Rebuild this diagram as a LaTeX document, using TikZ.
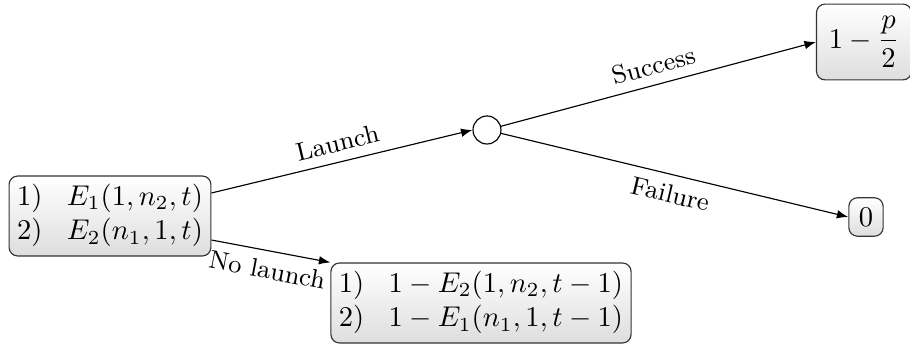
\documentclass[tikz,border=0pt]{standalone}
\usetikzlibrary{arrows.meta,shadings}
\begin{document}
\begin{tikzpicture}[x=0.35pt,y=-0.35pt,
  box/.style={draw=black!80,rounded corners=3pt,top color=white,bottom color=black!13,inner ysep=2pt,inner xsep=2.8pt,line width=0.4pt},
  chance/.style={draw,circle,minimum size=28*0.35pt,inner sep=0pt},
  arr/.style={-{Latex[length=4pt,width=3pt]},line width=0.4pt},
  lab/.style={sloped,font=\small}]
\useasboundingbox (0,0) rectangle (910,345);
\node[box] (root) at (110,216) {$\begin{array}{@{}l@{\hspace{8.5pt}}l@{}}1) & E_1(1,n_2,t)\\ 2) & E_2(n_1,1,t)\end{array}$};
\node[chance] (c) at (487,130) {};
\node[box,inner sep=4.3pt] (s) at (864,42) {$\displaystyle 1-\frac{p}{2}$};
\node[box,inner sep=3.5pt] (f) at (866,217) {$0$};
\node[box] (nl) at (481,303) {$\begin{array}{@{}l@{\hspace{8.5pt}}l@{}}1) & 1-E_2(1,n_2,t-1)\\ 2) & 1-E_1(n_1,1,t-1)\end{array}$};
\draw[arr] ([yshift=23*0.35pt]root.east) -- node[lab,above] {Launch} (c.west);
\draw[arr] ([yshift=-24*0.35pt]root.east) -- node[lab,below,pos=0.5] {No launch} (nl.north west);
\draw[arr] (c) -- node[lab,above] {Success} (s.west);
\draw[arr] (c) -- node[lab,below] {Failure} (f.west);
\end{tikzpicture}
\end{document}
